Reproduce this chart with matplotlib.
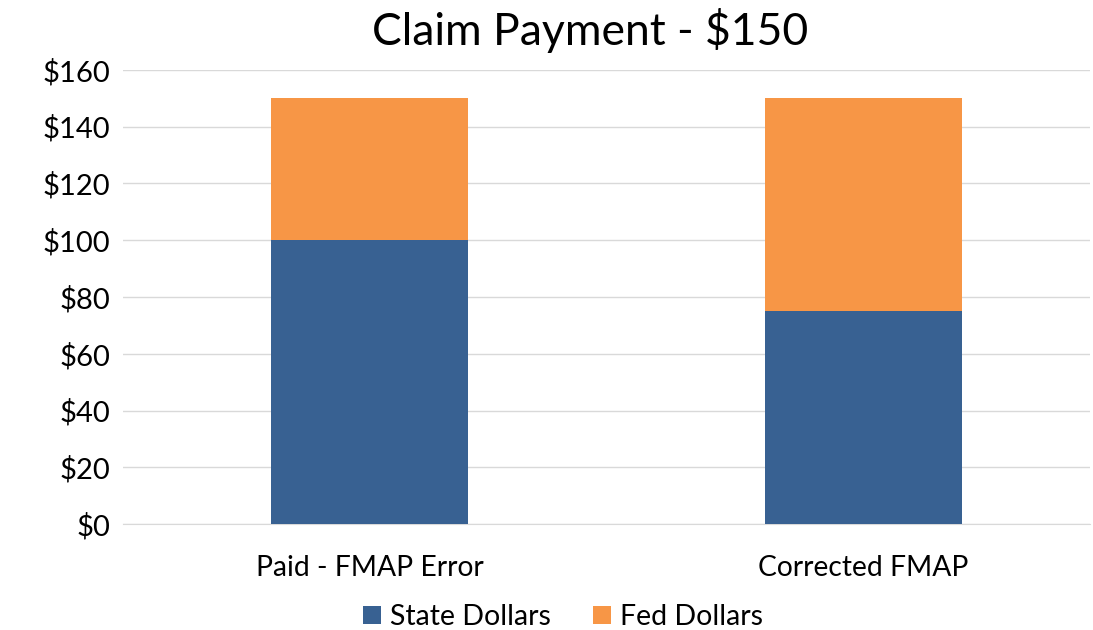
import numpy as np
import matplotlib.pyplot as plt

categories = ["Paid - FMAP Error", "Corrected FMAP"]
state_dollars = [100, 75]
fed_dollars = [50, 75]
yticks = [0, 20, 40, 60, 80, 100, 120, 140, 160]

plt.rcParams['font.family'] = ['Lato', 'DejaVu Sans']

fig = plt.figure(figsize=(10.93, 6.3), dpi=100)
ax = fig.add_axes([0.1125, 0.168, 0.885, 0.721])

x = np.arange(len(categories))
ax.bar(x, state_dollars, width=0.4, color="#386192", label="State Dollars", zorder=3)
ax.bar(x, fed_dollars, width=0.4, bottom=state_dollars, color="#F79646", label="Fed Dollars", zorder=3)

ax.set_xlim(-0.5, 1.46)
ax.set_ylim(0, 160)
ax.set_yticks(yticks)
ax.set_yticklabels(["$%d" % v for v in yticks], fontsize=21)
ax.set_xticks(x)
ax.set_xticklabels(categories, fontsize=20.3)
ax.tick_params(axis="y", length=0, pad=9)
ax.tick_params(axis="x", length=0, pad=22)
ax.grid(axis="y", color="#d9d9d9", linewidth=1, zorder=0)
for s in ["top", "right", "left"]:
    ax.spines[s].set_visible(False)
ax.spines["bottom"].set_color("#d9d9d9")

fig.text(0.54, 1 - 45 / 630, "Claim Payment - $150", fontsize=32, ha="center", va="baseline")
fig.legend(loc="center", bbox_to_anchor=(0.515, 1 - 617 / 630), ncol=2, frameon=False,
           fontsize=20.5, handlelength=0.63, handleheight=0.63, handletextpad=0.3,
           columnspacing=1.5, borderpad=0)

fig.savefig("out.png", dpi=100)
